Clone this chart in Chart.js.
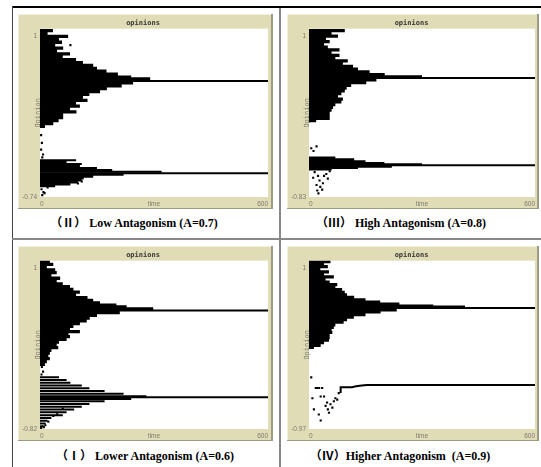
<!DOCTYPE html>
<html>
<head>
<meta charset="utf-8">
<script src="https://cdn.jsdelivr.net/npm/chart.js@4.4.1/dist/chart.umd.min.js"></script>
<style>
  html, body { margin: 0; padding: 0; background: #fff; }
  body { width: 541px; height: 467px; position: relative; overflow: hidden; }
  .rule { position: absolute; }
  .box { position: absolute; background: #e0ddb6;
         box-shadow: inset -2px -1px 0 #9c9a84, inset 1px 1px 0 #f2f0da; }
  .box canvas { position: absolute; left: 0; top: 0; }
  .cap { position: absolute; white-space: pre; transform: translate(-50%, -50%);
         font: bold 12px 'Liberation Serif', 'Noto Sans CJK SC', serif; color: #000; }
</style>
</head>
<body>
<!-- table rules -->
<div class="rule" style="left:12px;top:6px;width:529px;height:2px;background:#000"></div>
<div class="rule" style="left:12px;top:6px;width:1px;height:461px;background:#444"></div>
<div class="rule" style="left:279px;top:8px;width:2px;height:459px;background:#888"></div>
<div class="rule" style="left:12px;top:238px;width:529px;height:2px;background:#888"></div>

<div class="box" style="left:18px;top:14px;width:255px;height:195px"><canvas id="a07" width="255" height="195"></canvas></div>
<div class="box" style="left:287px;top:14px;width:252px;height:195px"><canvas id="a08" width="252" height="195"></canvas></div>
<div class="box" style="left:18px;top:246px;width:255px;height:195px"><canvas id="a06" width="255" height="195"></canvas></div>
<div class="box" style="left:287px;top:246px;width:252px;height:195px"><canvas id="a09" width="252" height="195"></canvas></div>

<div class="cap" style="left:134px;top:222px">（Ⅱ） Low Antagonism (A=0.7)</div>
<div class="cap" style="left:401px;top:222px">（Ⅲ） High Antagonism (A=0.8)</div>
<div class="cap" style="left:145px;top:455px">（Ⅰ） Lower Antagonism (A=0.6)</div>
<div class="cap" style="left:400px;top:455px">（Ⅳ）Higher Antagonism  (A=0.9)</div>

<script>
// ---------- Data ----------
// Each "streak" = a group of agents holding an opinion from t=0 until it merges.
const timeMax = 600;

// A = 0.7 (top left)
const a07YMin = -0.74;
const a07UpOpinion = [0.98, 0.95, 0.92, 0.89, 0.86, 0.83, 0.80, 0.77, 0.74, 0.71, 0.68, 0.65, 0.62, 0.59, 0.56, 0.53, 0.50, 0.48, 0.44, 0.41, 0.38, 0.35, 0.32, 0.29, 0.26, 0.23, 0.20, 0.17, 0.14, 0.11, 0.08, 0.05, 0.02, -0.01];
const a07UpHold    = [34, 20, 74, 50, 58, 40, 61, 45, 79, 60, 95, 113, 140, 150, 175, 205, 240, 290, 245, 215, 176, 158, 130, 113, 125, 95, 105, 79, 96, 61, 61, 49, 35, 13];
const a07LoOpinion = [-0.36, -0.38, -0.40, -0.42, -0.44, -0.46, -0.48, -0.51, -0.53, -0.55, -0.57, -0.59, -0.61, -0.63];
const a07LoHold    = [95, 70, 110, 105, 150, 190, 320, 220, 140, 115, 110, 100, 80, 40];
const a07UpPathTime = [0, 600], a07UpPathOpinion = [0.46, 0.46];
const a07LoPathTime = [0, 600], a07LoPathOpinion = [-0.494, -0.494];
const a07DotTime    = [3, 5, 3, 8, 6, 4, 9, 6, 12, 20, 100, 110, 80];
const a07DotOpinion = [-0.10, -0.18, -0.25, -0.30, -0.33, -0.66, -0.69, -0.72, -0.70, -0.64, -0.60, -0.58, 0.83];

// A = 0.8 (top right)
const a08YMin = -0.83;
const a08UpOpinion = [0.98, 0.95, 0.92, 0.89, 0.86, 0.83, 0.80, 0.77, 0.74, 0.71, 0.68, 0.65, 0.62, 0.59, 0.56, 0.53, 0.50, 0.475, 0.445, 0.415, 0.385, 0.355, 0.325, 0.295, 0.265, 0.235, 0.205, 0.175, 0.145, 0.115, 0.085, 0.055, 0.025, 0.0];
const a08UpHold    = [95, 60, 77, 45, 55, 40, 50, 81, 60, 81, 70, 103, 90, 117, 130, 161, 201, 300, 179, 152, 112, 100, 95, 86, 77, 90, 86, 70, 64, 60, 55, 55, 55, 19];
const a08LoOpinion = [-0.40, -0.42, -0.44, -0.46, -0.475, -0.50, -0.515, -0.53];
const a08LoHold    = [70, 120, 150, 200, 300, 220, 130, 60];
const a08UpPathTime = [0, 600], a08UpPathOpinion = [0.464, 0.464];
const a08LoPathTime = [0, 600], a08LoPathOpinion = [-0.485, -0.485];
const a08DotTime    = [11, 15, 24, 28, 20, 30, 37, 40, 46, 50, 55, 22, 25, 35, 6, 20, 12];
const a08DotOpinion = [-0.62, -0.56, -0.60, -0.65, -0.70, -0.72, -0.68, -0.60, -0.58, -0.63, -0.55, -0.76, -0.79, -0.75, -0.30, -0.28, -0.33];

// A = 0.6 (bottom left)
const a06YMin = -0.82;
const a06UpOpinion = [0.99, 0.96, 0.93, 0.90, 0.87, 0.84, 0.81, 0.78, 0.75, 0.72, 0.69, 0.66, 0.63, 0.60, 0.57, 0.545, 0.52, 0.50, 0.478, 0.44, 0.41, 0.38, 0.35, 0.32, 0.29, 0.26, 0.234, 0.21, 0.18, 0.15, 0.12, 0.09, 0.06, 0.03, 0.0, -0.03, -0.06, -0.09, -0.12];
const a06UpHold    = [26, 35, 18, 40, 44, 30, 53, 44, 60, 79, 88, 105, 95, 125, 140, 158, 201, 228, 298, 210, 150, 131, 123, 105, 88, 79, 105, 75, 79, 70, 50, 44, 48, 30, 26, 22, 26, 18, 13];
const a06LoOpinion = [-0.26, -0.29, -0.32, -0.35, -0.38, -0.41, -0.44, -0.465, -0.495, -0.52, -0.55, -0.58, -0.61, -0.64, -0.67, -0.70, -0.73, -0.76, -0.79];
const a06LoHold    = [50, 70, 80, 110, 130, 170, 220, 280, 240, 170, 130, 110, 90, 70, 60, 30, 20, 15, 10];
const a06UpPathTime = [0, 600], a06UpPathOpinion = [0.462, 0.462];
const a06LoPathTime = [0, 600], a06LoPathOpinion = [-0.476, -0.476];
const a06DotTime    = [5, 8, 4, 3, 10, 14, 22, 35, 45, 60];
const a06DotOpinion = [-0.15, -0.20, -0.23, -0.81, -0.80, -0.78, -0.74, -0.68, -0.66, -0.60];

// A = 0.9 (bottom right)
const a09YMin = -0.97;
const a09UpOpinion = [0.99, 0.96, 0.93, 0.90, 0.87, 0.84, 0.81, 0.78, 0.75, 0.72, 0.69, 0.66, 0.63, 0.60, 0.57, 0.54, 0.515, 0.49, 0.468, 0.455, 0.425, 0.40, 0.37, 0.34, 0.31, 0.28, 0.25, 0.22, 0.19, 0.16, 0.13, 0.10, 0.07, 0.04, 0.01, -0.015];
const a09UpHold    = [57, 40, 50, 30, 53, 40, 66, 44, 55, 75, 70, 88, 95, 101, 120, 150, 189, 240, 330, 414, 233, 190, 150, 119, 101, 92, 70, 66, 60, 62, 55, 55, 53, 40, 31, 13];
const a09LoOpinion = [];
const a09LoHold    = [];
const a09UpPathTime = [0, 600], a09UpPathOpinion = [0.445, 0.445];
const a09LoPathTime = [84, 84, 114, 125, 140, 154, 600];
const a09LoPathOpinion = [-0.55, -0.48, -0.48, -0.47, -0.46, -0.454, -0.454];
const a09DotTime    = [6, 18, 22, 27, 35, 9, 13, 31, 40, 48, 57, 66, 75, 79, 53, 62, 26, 31, 70, 44, 50];
const a09DotOpinion = [-0.366, -0.49, -0.49, -0.49, -0.49, -0.61, -0.74, -0.59, -0.59, -0.66, -0.68, -0.645, -0.626, -0.55, -0.78, -0.72, -0.80, -0.87, -0.61, -0.70, -0.74];

// ---------- Helpers ----------
const tickFont = { family: 'Liberation Sans', size: 6.5 };
const tickColor = '#7a7a6e';

function streakPoints(opinions, holds) {
  const pts = [];
  opinions.forEach((v, i) => {
    pts.push({ x: 0, y: v }, { x: holds[i], y: v }, { x: holds[i], y: null });
  });
  return pts;
}
const pathPoints = (times, opinions) => times.map((t, i) => ({ x: t, y: opinions[i] }));

// white plotting area on the beige frame
const plotBg = {
  id: 'plotBg',
  beforeDraw(chart) {
    const a = chart.chartArea, ctx = chart.ctx;
    ctx.save();
    ctx.fillStyle = '#fff';
    ctx.fillRect(a.left, a.top, a.right - a.left, a.bottom - a.top);
    ctx.restore();
  },
};

function makePlot(id, p) {
  const line = { borderColor: '#000', pointRadius: 0, spanGaps: false, borderCapStyle: 'butt' };
  const noGrid = { display: false, drawTicks: false, tickLength: 0 };
  new Chart(document.getElementById(id), {
    type: 'line',
    data: {
      datasets: [
        { ...line, data: streakPoints(p.upOp, p.upHold), borderWidth: 3.3 },
        { ...line, data: streakPoints(p.loOp, p.loHold), borderWidth: 2 },
        { ...line, data: pathPoints(p.upPathT, p.upPathV), borderWidth: 2 },
        { ...line, data: pathPoints(p.loPathT, p.loPathV), borderWidth: 2 },
        { data: pathPoints(p.dotT, p.dotV), showLine: false, pointStyle: 'rect', pointRadius: 1.5,
          pointBackgroundColor: '#000', pointBorderWidth: 0 },
      ],
    },
    options: {
      responsive: false, animation: false, events: [],
      layout: { padding: { left: 0, right: p.padRight, top: 0, bottom: 0 } },
      plugins: {
        legend: { display: false },
        tooltip: { enabled: false },
        title: {
          display: true, text: 'opinions', color: '#333',
          font: { family: 'DejaVu Sans Mono', size: 7, weight: 'bold', lineHeight: 1 },
          padding: { top: 2, bottom: 2 },
        },
      },
      scales: {
        x: {
          type: 'linear', min: 0, max: timeMax,
          grid: noGrid, border: { display: false },
          afterBuildTicks: (s) => { s.ticks = [{ value: 0 }, { value: 300 }, { value: timeMax }]; },
          afterFit: (s) => { s.height = 12; },
          ticks: {
            align: 'inner', maxRotation: 0, autoSkip: false, padding: 3,
            font: tickFont, color: tickColor,
            callback: (v) => (v === 300 ? 'time' : String(v)),
          },
        },
        y: {
          type: 'linear', min: p.yMin, max: 1,
          grid: noGrid, border: { display: false },
          afterBuildTicks: (s) => { s.ticks = [{ value: p.yMin }, { value: 1 }]; },
          afterFit: (s) => { s.width = 22; },
          title: {
            display: true, text: 'Opinion', color: tickColor,
            font: { family: 'DejaVu Sans Mono', size: 7, lineHeight: 1 },
            padding: { top: 16.5, bottom: 0 },
          },
          ticks: {
            autoSkip: false, padding: 3, font: tickFont, color: tickColor,
            callback: (v) => (v === 1 ? ['', '', '1'] : v.toFixed(2)),
          },
        },
      },
    },
    plugins: [plotBg],
  });
}

makePlot('a07', { yMin: a07YMin, padRight: 5,
  upOp: a07UpOpinion, upHold: a07UpHold, loOp: a07LoOpinion, loHold: a07LoHold,
  upPathT: a07UpPathTime, upPathV: a07UpPathOpinion, loPathT: a07LoPathTime, loPathV: a07LoPathOpinion,
  dotT: a07DotTime, dotV: a07DotOpinion });
makePlot('a08', { yMin: a08YMin, padRight: 3,
  upOp: a08UpOpinion, upHold: a08UpHold, loOp: a08LoOpinion, loHold: a08LoHold,
  upPathT: a08UpPathTime, upPathV: a08UpPathOpinion, loPathT: a08LoPathTime, loPathV: a08LoPathOpinion,
  dotT: a08DotTime, dotV: a08DotOpinion });
makePlot('a06', { yMin: a06YMin, padRight: 5,
  upOp: a06UpOpinion, upHold: a06UpHold, loOp: a06LoOpinion, loHold: a06LoHold,
  upPathT: a06UpPathTime, upPathV: a06UpPathOpinion, loPathT: a06LoPathTime, loPathV: a06LoPathOpinion,
  dotT: a06DotTime, dotV: a06DotOpinion });
makePlot('a09', { yMin: a09YMin, padRight: 3,
  upOp: a09UpOpinion, upHold: a09UpHold, loOp: a09LoOpinion, loHold: a09LoHold,
  upPathT: a09UpPathTime, upPathV: a09UpPathOpinion, loPathT: a09LoPathTime, loPathV: a09LoPathOpinion,
  dotT: a09DotTime, dotV: a09DotOpinion });
</script>
</body>
</html>
